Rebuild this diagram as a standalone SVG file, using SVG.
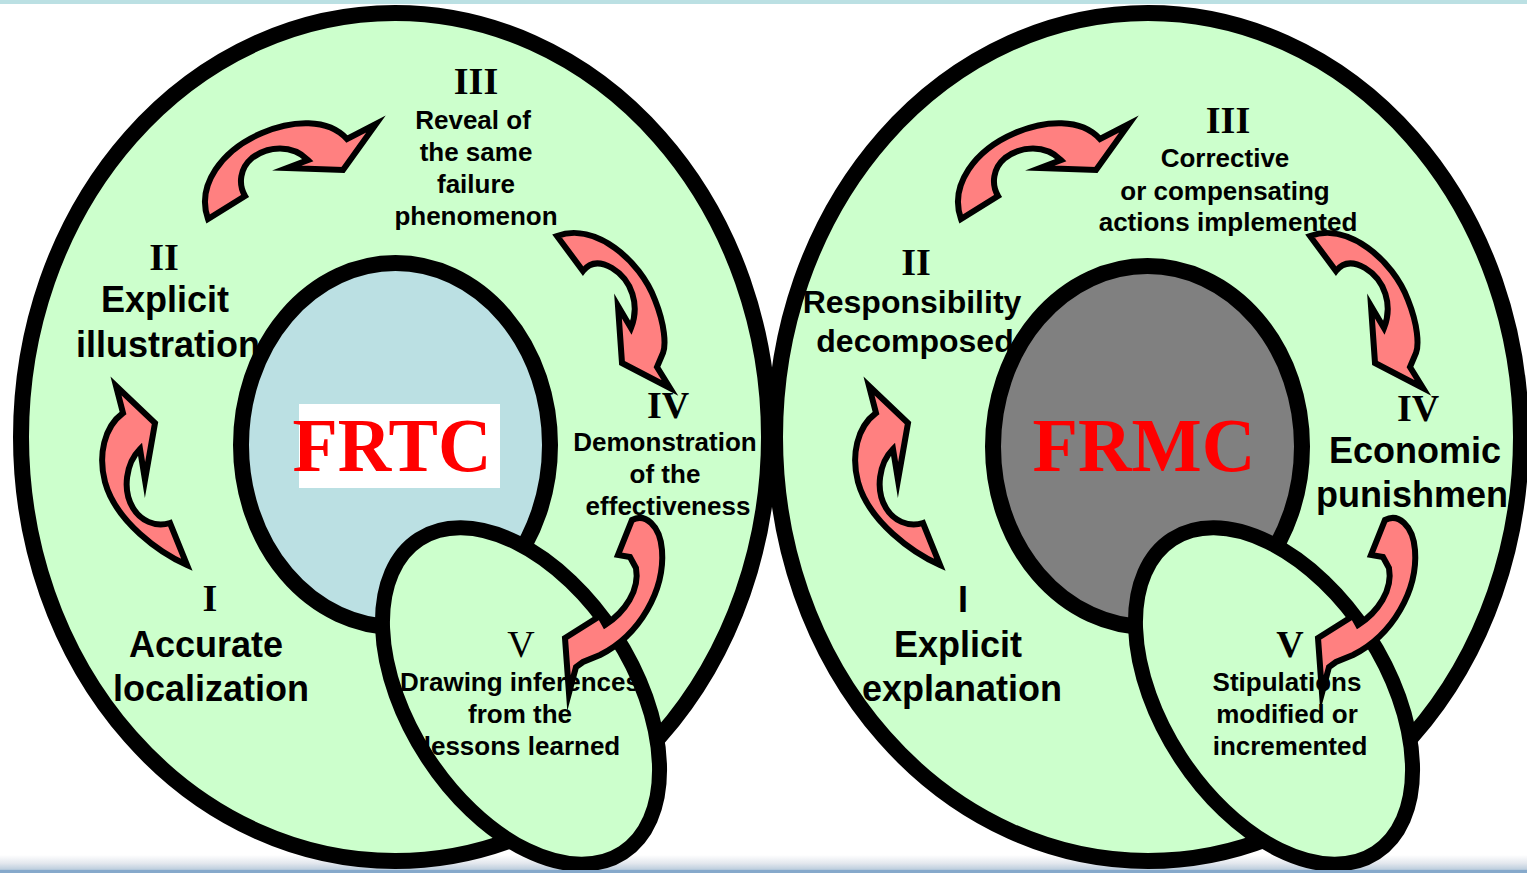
<svg xmlns="http://www.w3.org/2000/svg" width="1527" height="873" viewBox="0 0 1527 873">
<defs>
<linearGradient id="bottomBand" x1="0" y1="0" x2="0" y2="1">
<stop offset="0" stop-color="#FFFFFF"/>
<stop offset="0.45" stop-color="#E4E8EE"/>
<stop offset="0.75" stop-color="#C3D2E0"/>
<stop offset="1" stop-color="#86A9CB"/>
</linearGradient>
<style>
.outer{fill:#CCFFCC;stroke:#000;stroke-width:16}
.core1{fill:#BBE0E3;stroke:#000;stroke-width:16}
.core2{fill:#808080;stroke:#000;stroke-width:16}
.small{fill:#CCFFCC;stroke:#000;stroke-width:15}
.arrow{fill:#FF8080;stroke:#000;stroke-width:6;stroke-linejoin:miter;stroke-miterlimit:10}
.num{font-family:"Liberation Serif","Times New Roman",serif;font-weight:bold;font-size:38px;fill:#000;text-anchor:middle}
.numr{font-family:"Liberation Serif","Times New Roman",serif;font-weight:normal;font-size:38px;fill:#000;text-anchor:middle}
.s26{font-family:"Liberation Sans",Arial,sans-serif;font-weight:bold;font-size:26px;fill:#000;text-anchor:middle}
.s32{font-family:"Liberation Sans",Arial,sans-serif;font-weight:bold;font-size:32px;fill:#000;text-anchor:middle}
.s36{font-family:"Liberation Sans",Arial,sans-serif;font-weight:bold;font-size:36px;fill:#000;text-anchor:middle}
.core-label{font-family:"Liberation Serif","Times New Roman",serif;font-weight:bold;font-size:76px;fill:#FF0000;text-anchor:middle}
</style>
</defs>
<rect x="0" y="0" width="1527" height="873" fill="#FFFFFF"/>
<rect x="0" y="0" width="1527" height="4" fill="#BBE0E3"/>
<rect x="0" y="855" width="1527" height="18" fill="url(#bottomBand)"/>

<g id="frtc-cycle">
<ellipse class="outer" cx="395" cy="437" rx="374" ry="424"/>
</g>
<g id="frmc-cycle">
<ellipse class="outer" cx="1148" cy="437" rx="373" ry="424"/>
</g>

<g id="frtc-core">
<ellipse class="core1" cx="395.5" cy="445" rx="154.5" ry="182"/>
<rect x="299" y="404" width="201" height="84" fill="#FFFFFF"/>
<text class="core-label" x="392" y="471" textLength="199" lengthAdjust="spacingAndGlyphs">FRTC</text>
</g>
<g id="frmc-core">
<ellipse class="core2" cx="1147.5" cy="446.5" rx="154.5" ry="180.5"/>
<text class="core-label" x="1144" y="471" textLength="223" lengthAdjust="spacingAndGlyphs">FRMC</text>
</g>

<g id="frtc-stage5">
<ellipse class="small" cx="521" cy="696" rx="112" ry="187" transform="rotate(-33 521 696)"/>
<text class="numr" x="521" y="657">V</text>
<text class="s26" x="520" y="691">Drawing inferences</text>
<text class="s26" x="520" y="723">from the</text>
<text class="s26" x="522" y="755">lessons learned</text>
</g>
<g id="frmc-stage5">
<ellipse class="small" cx="1274" cy="696" rx="112" ry="187" transform="rotate(-33 1274 696)"/>
<text class="num" x="1290" y="657">V</text>
<text class="s26" x="1287" y="691">Stipulations</text>
<text class="s26" x="1287" y="723">modified or</text>
<text class="s26" x="1290" y="755">incremented</text>
</g>

<g id="frtc-stage1">
<text class="num" x="210" y="611">I</text>
<text class="s36" x="206" y="657">Accurate</text>
<text class="s36" x="211" y="701">localization</text>
</g>
<g id="frtc-stage2">
<text class="num" x="164" y="270">II</text>
<text class="s36" x="165" y="312">Explicit</text>
<text class="s36" x="168" y="357">illustration</text>
</g>
<g id="frtc-stage3">
<text class="num" x="476" y="94">III</text>
<text class="s26" x="473" y="129">Reveal of</text>
<text class="s26" x="476" y="161">the same</text>
<text class="s26" x="476" y="193">failure</text>
<text class="s26" x="476" y="225">phenomenon</text>
</g>
<g id="frtc-stage4">
<text class="num" x="668" y="418">IV</text>
<text class="s26" x="665" y="451">Demonstration</text>
<text class="s26" x="665" y="483">of the</text>
<text class="s26" x="668" y="515">effectiveness</text>
</g>

<g id="frmc-stage1">
<text class="s36" x="963" y="612">I</text>
<text class="s36" x="958" y="657">Explicit</text>
<text class="s36" x="962" y="701">explanation</text>
</g>
<g id="frmc-stage2">
<text class="num" x="916" y="275">II</text>
<text class="s32" x="912" y="313">Responsibility</text>
<text class="s32" x="915" y="352">decomposed</text>
</g>
<g id="frmc-stage3">
<text class="num" x="1228" y="133">III</text>
<text class="s26" x="1225" y="167">Corrective</text>
<text class="s26" x="1225" y="200">or compensating</text>
<text class="s26" x="1228" y="231">actions implemented</text>
</g>
<g id="frmc-stage4">
<text class="num" x="1418" y="421">IV</text>
<text class="s36" x="1415" y="463">Economic</text>
<text class="s36" x="1316" y="507" style="text-anchor:start">punishmen</text>
</g>

<g id="connectors">
<g id="frtc-arrows">
<path class="arrow" d="M208,219 C196,185 222,150 262,133 C292,120 328,118 347,139 L376,124 L343,170 L287,168 L308,160 C292,144 268,146 252,158 C240,168 238,184 245,196 Z"/>
<path class="arrow" d="M557,236 C595,222 640,260 655,300 C665,325 666,345 663,353 L657,367 L670,388 L622,363 L618,306 L631,328 C640,305 632,280 612,268 C600,261 590,262 583,271 Z"/>
<path class="arrow" d="M187,565 C160,553 116,522 105,482 C98,455 104,427 123,413 L116,386 L155,423 L145,480 L140,449 C126,463 122,490 133,508 C140,520 155,528 170,523 Z"/>
<path class="arrow" d="M632,520 C645,513 660,525 662,550 C665,590 640,635 600,655 L583,662 L576,667 L569,693 L565,638 L600,616 L605,625 C625,612 640,590 636,568 L630,557 L618,555 Z"/>
</g>
<g id="frmc-arrows" transform="translate(753,0)">
<path class="arrow" d="M208,219 C196,185 222,150 262,133 C292,120 328,118 347,139 L376,124 L343,170 L287,168 L308,160 C292,144 268,146 252,158 C240,168 238,184 245,196 Z"/>
<path class="arrow" d="M557,236 C595,222 640,260 655,300 C665,325 666,345 663,353 L657,367 L670,388 L622,363 L618,306 L631,328 C640,305 632,280 612,268 C600,261 590,262 583,271 Z"/>
<path class="arrow" d="M187,565 C160,553 116,522 105,482 C98,455 104,427 123,413 L116,386 L155,423 L145,480 L140,449 C126,463 122,490 133,508 C140,520 155,528 170,523 Z"/>
<path class="arrow" d="M632,520 C645,513 660,525 662,550 C665,590 640,635 600,655 L583,662 L576,667 L569,693 L565,638 L600,616 L605,625 C625,612 640,590 636,568 L630,557 L618,555 Z"/>
</g>
</g>
<rect x="0" y="870" width="1527" height="3" fill="#86A9CB"/>
</svg>
